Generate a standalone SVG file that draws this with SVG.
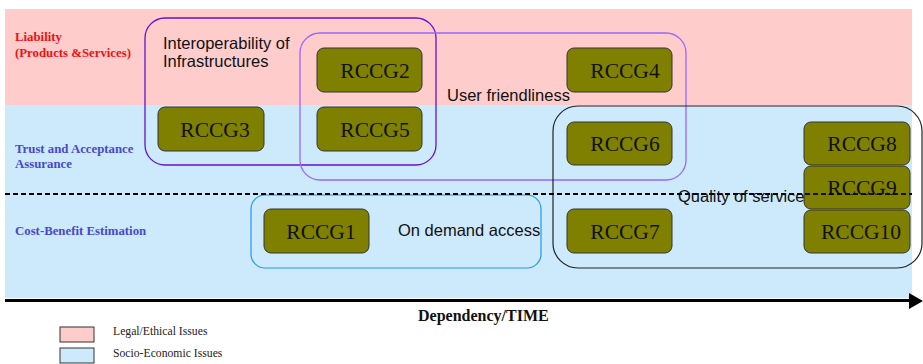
<svg xmlns="http://www.w3.org/2000/svg" width="923" height="364" viewBox="0 0 923 364">
<style>
.node rect{fill:#808000;stroke:#333;stroke-width:1}
.node text{font-family:"Liberation Serif",serif;font-size:21.5px;fill:#111;text-anchor:middle}
.grp{fill:none}
.lbl{font-family:"Liberation Sans",Arial,sans-serif;font-size:16.5px;fill:#111}
.row{font-family:"Liberation Serif",serif;font-size:12.8px;font-weight:bold}
.leg{font-family:"Liberation Serif",serif;font-size:11.7px;fill:#222}
</style>
<rect width="923" height="364" fill="#fff"/>
<rect x="5" y="9" width="907" height="96" fill="#ffcccc"/>
<rect x="5" y="105" width="907" height="193" fill="#cdeafd"/>
<text class="row" x="15" y="41" fill="#ee1111">Liability</text>
<text class="row" x="15" y="57" fill="#ee1111">(Products &amp;Services)</text>
<text class="row" x="15" y="153" fill="#4848cc">Trust and Acceptance</text>
<text class="row" x="15" y="168" fill="#4848cc">Assurance</text>
<text class="row" x="15" y="235" fill="#4848cc">Cost-Benefit Estimation</text>
<g id="groups">
<rect class="grp" x="145" y="18" width="291" height="147" rx="20" stroke="#6611cc" stroke-width="1.3"/>
<rect class="grp" x="300" y="33" width="386" height="147" rx="20" stroke="#9966ff" stroke-width="1.3"/>
<rect class="grp" x="553" y="106" width="369" height="162" rx="25" stroke="#222" stroke-width="1.2"/>
<rect class="grp" x="251" y="195" width="290" height="73" rx="14" stroke="#2299ee" stroke-width="1.2"/>
</g>
<line x1="5" y1="194" x2="912" y2="194" stroke="#000" stroke-width="2" stroke-dasharray="5,3"/>
<text class="lbl" x="163" y="49">Interoperability of</text>
<text class="lbl" x="163" y="67">Infrastructures</text>
<text class="lbl" x="447" y="101">User friendliness</text>
<text class="lbl" x="398" y="236">On demand access</text>
<g id="n1" class="node"><rect x="264" y="209" width="105" height="44" rx="7"/><text x="321" y="239">RCCG1</text></g>
<g id="n2" class="node"><rect x="317" y="48" width="105" height="44" rx="7"/><text x="375" y="78">RCCG2</text></g>
<g id="n3" class="node"><rect x="158" y="107" width="106" height="44" rx="7"/><text x="215" y="137">RCCG3</text></g>
<g id="n4" class="node"><rect x="567" y="48" width="105" height="44" rx="7"/><text x="625" y="78">RCCG4</text></g>
<g id="n5" class="node"><rect x="317" y="107" width="105" height="44" rx="7"/><text x="375" y="137">RCCG5</text></g>
<g id="n6" class="node"><rect x="567" y="122" width="105" height="43" rx="7"/><text x="625" y="151">RCCG6</text></g>
<g id="n7" class="node"><rect x="567" y="209" width="105" height="44" rx="7"/><text x="625" y="239">RCCG7</text></g>
<g id="n8" class="node"><rect x="804" y="122" width="106" height="43" rx="7"/><text x="862" y="151">RCCG8</text></g>
<g id="n9" class="node"><rect x="804" y="166" width="106" height="43" rx="7"/><text x="862" y="195">RCCG9</text></g>
<g id="n10" class="node"><rect x="804" y="210" width="106" height="43" rx="7"/><text x="861" y="239">RCCG10</text></g>
<line x1="5" y1="194" x2="912" y2="194" stroke="#000" stroke-width="2" stroke-dasharray="5,3" opacity="0.85"/>
<text class="lbl" x="678" y="202">Quality of service</text>
<g id="connectors">
<line x1="5" y1="300.5" x2="911" y2="300.5" stroke="#000" stroke-width="3"/>
<polygon points="909,293 923,301 909,309" fill="#000"/>
</g>
<text x="418" y="321" font-family="Liberation Serif,serif" font-size="16" font-weight="bold" fill="#111">Dependency/TIME</text>
<rect x="60" y="327" width="34" height="15" fill="#ffcccc" stroke="#333"/>
<rect x="60" y="348" width="34" height="15" fill="#cdeafd" stroke="#333"/>
<text class="leg" x="113" y="335">Legal/Ethical Issues</text>
<text class="leg" x="113" y="357">Socio-Economic Issues</text>
</svg>
